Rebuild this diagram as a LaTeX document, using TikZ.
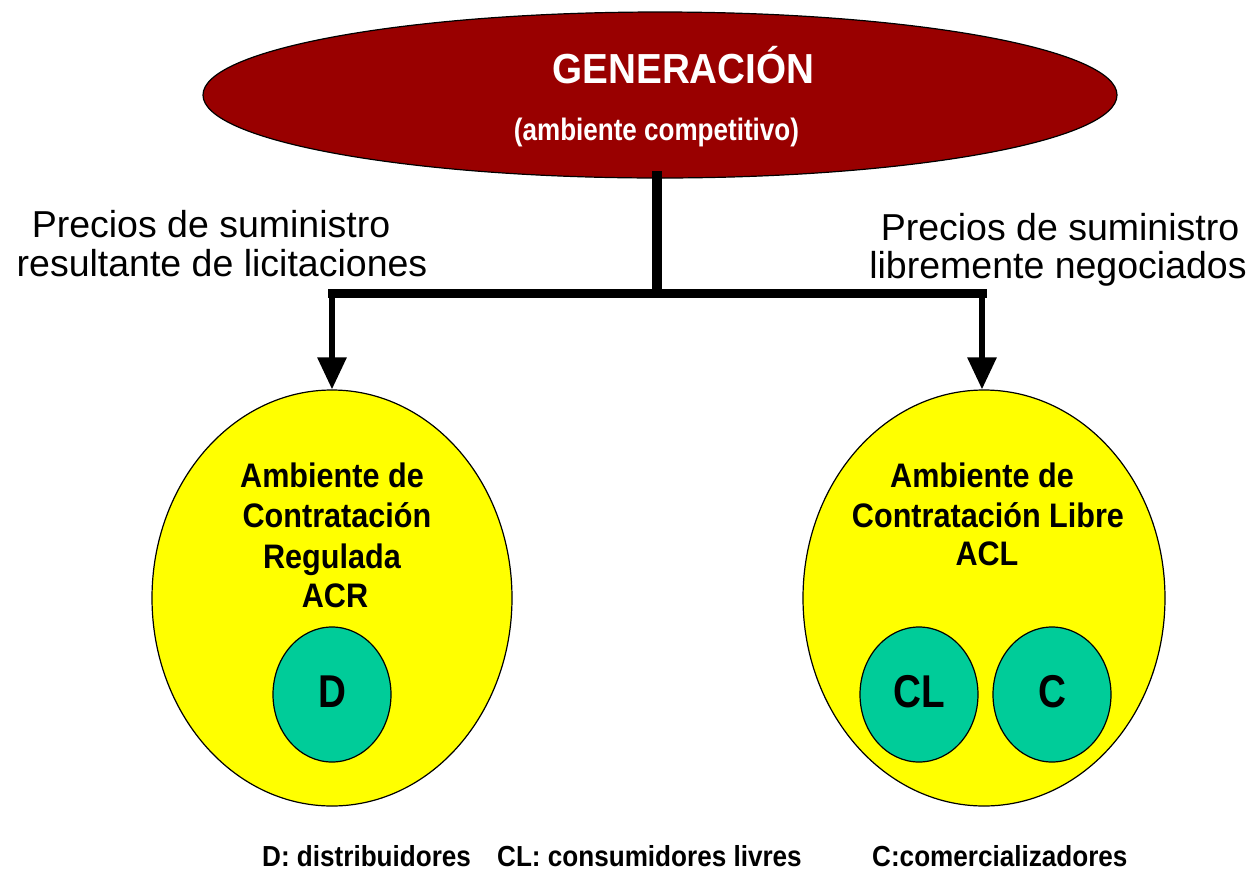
\documentclass[tikz,border=0pt]{standalone}
\usepackage{fontspec}
\setmainfont{Liberation Sans}
\newfontfamily\fgen[FakeStretch=0.92]{Liberation Sans}
\newfontfamily\fnar[FakeStretch=0.84]{Liberation Sans}
\newfontfamily\fmid[FakeStretch=0.9]{Liberation Sans}
\usetikzlibrary{shapes.geometric,arrows.meta}
\definecolor{genred}{HTML}{990000}
\definecolor{envyellow}{HTML}{FFFF00}
\definecolor{agentgreen}{HTML}{00CC99}
\begin{document}
\begin{tikzpicture}[x=1pt,y=-1pt,
  bigell/.style={ellipse, draw=black, line width=1.2pt, inner sep=0pt},
  agent/.style={bigell, fill=agentgreen, minimum width=118pt, minimum height=135pt,
    text height=25pt, text depth=0pt, font=\fnar\bfseries\fontsize{46}{50}\selectfont},
  envell/.style={bigell, fill=envyellow, minimum height=416pt},
  txt/.style={anchor=base, inner sep=0pt},
  envtxt/.style={txt, font=\fmid\bfseries\fontsize{34}{40}\selectfont},
  pricetxt/.style={txt, font=\fontsize{37.5}{40}\selectfont},
  legtxt/.style={anchor=base west, inner sep=0pt, font=\fmid\bfseries\fontsize{29}{32}\selectfont},
  bar/.style={line width=9pt},
  shaft/.style={line width=6pt, -{Triangle[width=28pt,length=32pt]}}
]
\useasboundingbox (0,0) rectangle (1254,871);

% generation ellipse
\node[bigell, fill=genred, minimum width=914pt, minimum height=166pt] (gen) at (660,95) {};
\node[txt, text=white, font=\fgen\bfseries\fontsize{42}{46}\selectfont] (gent) at (683.5,83) {GENERACIÓN};
\node[txt, text=white, font=\fnar\bfseries\fontsize{31}{34}\selectfont] (gens) at (656.5,140) {(ambiente competitivo)};

% environments
\node[envell, minimum width=360pt] (acr) at (332,598) {};
\node[envell, minimum width=362pt] (acl) at (984,598) {};

\node[envtxt] (acr1) at (332,487) {Ambiente de};
\node[envtxt] (acr2) at (337,527) {Contratación};
\node[envtxt] (acr3) at (332,568) {Regulada};
\node[envtxt] (acr4) at (335,607) {ACR};

\node[envtxt] (acl1) at (982,487) {Ambiente de};
\node[envtxt] (acl2) at (988,527) {Contratación Libre};
\node[envtxt] (acl3) at (987,565) {ACL};

% agents
\node[agent] (d) at (332,694.5) {D};
\node[agent] (cl) at (919,694.5) {CL};
\node[agent] (c) at (1052,694.5) {C};

% price labels
\node[pricetxt] (pl1) at (211,237) {Precios de suministro};
\node[pricetxt] (pl2) at (222,276) {resultante de licitaciones};
\node[pricetxt] (pr1) at (1060,240) {Precios de suministro};
\node[pricetxt] (pr2) at (1058,278) {libremente negociados};

% connectors
\coordinate (stemtop) at (657,171);
\coordinate (j) at (657,297);
\coordinate (jl) at (332,293);
\coordinate (jr) at (982,293);
\draw[line width=10pt] (stemtop) -- (j);
\draw[bar, line cap=rect] (jl) -- (jr);
\draw[shaft] (jl) -- (jl |- acr.north);
\draw[shaft] (jr) -- (jr |- acl.north);

% legend
\node[legtxt] (leg1) at (262,866) {D: distribuidores};
\node[legtxt] (leg2) at (497,866) {CL: consumidores livres};
\node[legtxt] (leg3) at (872,866) {C:comercializadores};
\end{tikzpicture}
\end{document}
